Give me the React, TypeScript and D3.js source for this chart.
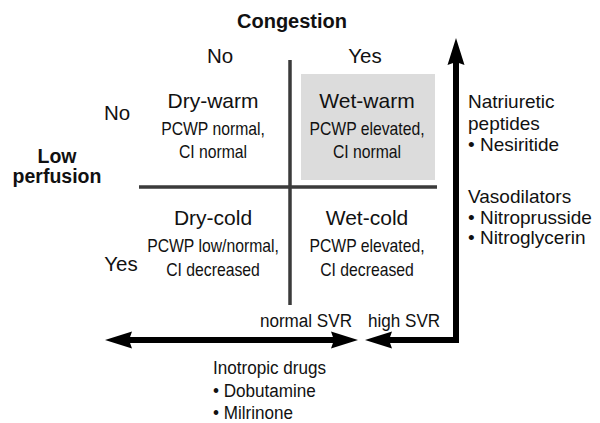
import React from 'react';
import * as d3 from 'd3';

const W = 600;
const H = 423;
const FONT = '"Liberation Sans", Arial, sans-serif';

// quadrant data
const congestion = ['No', 'Yes'];
const perfusion = ['No', 'Yes'];
const quadrantNames = ['Dry-warm', 'Wet-warm', 'Dry-cold', 'Wet-cold'];
const quadrantLines = [
  ['PCWP normal,', 'CI normal'],
  ['PCWP elevated,', 'CI normal'],
  ['PCWP low/normal,', 'CI decreased'],
  ['PCWP elevated,', 'CI decreased'],
];
const highlighted = 'Wet-warm';

// therapy labels
const natriuretic = ['Natriuretic', 'peptides', '• Nesiritide'];
const vasodilators = ['Vasodilators', '• Nitroprusside', '• Nitroglycerin'];
const inotropes = ['Inotropic drugs', '• Dobutamine', '• Milrinone'];
const svrLabels = ['normal SVR', 'high SVR'];

// layout scales
const colX = d3.scalePoint<string>().domain(congestion).range([213, 367]);
const rowY = d3.scalePoint<string>().domain(perfusion).range([108, 225]);
const headX = d3.scalePoint<string>().domain(congestion).range([220, 365]);
const sideY = d3.scalePoint<string>().domain(perfusion).range([120, 271]);

const gridX = d3.scaleLinear().domain([-1, 1]).range([139, 437]);
const gridY = d3.scaleLinear().domain([1, -1]).range([60, 305]);

const line = d3.line<[number, number]>();

function head(tip: [number, number], dir: 'left' | 'right' | 'up') {
  const L = 27;
  const w = 8.5;
  const [x, y] = tip;
  let pts: [number, number][];
  if (dir === 'left') pts = [[x, y], [x + L, y - w], [x + L - 3, y], [x + L, y + w]];
  else if (dir === 'right') pts = [[x, y], [x - L, y - w], [x - L + 3, y], [x - L, y + w]];
  else pts = [[x, y], [x - w, y + L], [x, y + L - 3], [x + w, y + L]];
  return line(pts) + 'Z';
}

// narrow text: regular glyphs squeezed horizontally
function Narrow({ x, y, size, anchor, children }: any) {
  return (
    <text
      transform={`translate(${x},${y}) scale(0.9,1)`}
      fontSize={size}
      textAnchor={anchor || 'start'}
      fill="#111"
    >
      {children}
    </text>
  );
}

export default function App() {
  const arrowY = 340;
  const arrowX = 456;
  return (
    <svg
      width={W}
      height={H}
      viewBox={`0 0 ${W} ${H}`}
      style={{ position: 'absolute', left: 0, top: 0, background: '#fff' }}
      fontFamily={FONT}
    >
      <defs>
        <filter id="soft" x="-10%" y="-10%" width="120%" height="120%">
          <feGaussianBlur stdDeviation="0.6" />
        </filter>
      </defs>
      <rect width={W} height={H} fill="#fff" />

      {/* highlighted quadrant */}
      <rect x={301} y={74} width={134} height={106} fill="#dcdcdc" />

      {/* quadrant cross */}
      <g stroke="#3a3a3a" strokeWidth={3.5} filter="url(#soft)">
        <path d={line([[gridX(0) + 2, gridY(1)], [gridX(0) + 2, gridY(-1)]]) as string} />
        <path d={line([[gridX(-1), gridY(0) + 4.5], [gridX(1), gridY(0) + 4.5]]) as string} />
      </g>

      {/* therapy arrows */}
      <g filter="url(#soft)">
        <path
          d={line([[105 + 20, arrowY], [358 - 20, arrowY]]) as string}
          stroke="#000"
          strokeWidth={6}
          fill="none"
        />
        <path d={head([105, arrowY], 'left')} fill="#000" />
        <path d={head([358, arrowY], 'right')} fill="#000" />
        <path
          d={line([[365 + 20, arrowY], [arrowX, arrowY], [arrowX, 38 + 20]]) as string}
          stroke="#000"
          strokeWidth={6}
          fill="none"
          strokeLinejoin="miter"
        />
        <path d={head([365, arrowY], 'left')} fill="#000" />
        <path d={head([arrowX, 38], 'up')} fill="#000" />
      </g>

      {/* axis titles */}
      <text x={292} y={28} fontSize={20} fontWeight="bold" textAnchor="middle" fill="#111">
        Congestion
      </text>
      <text x={57} y={163} fontSize={19.5} fontWeight="bold" textAnchor="middle" fill="#111">
        Low
      </text>
      <text x={57} y={183} fontSize={19.5} fontWeight="bold" textAnchor="middle" fill="#111">
        perfusion
      </text>

      {congestion.map((c) => (
        <text key={`h${c}`} x={headX(c)} y={63} fontSize={20.5} textAnchor="middle" fill="#111">
          {c}
        </text>
      ))}
      {perfusion.map((p) => (
        <text key={`s${p}`} x={(p === 'No' ? 117 : 121)} y={sideY(p)} fontSize={20.5} textAnchor="middle" fill="#111">
          {p}
        </text>
      ))}

      {/* quadrants */}
      {quadrantNames.map((name, i) => {
        const c = congestion[i % 2];
        const p = perfusion[Math.floor(i / 2)];
        const x = colX(c) as number;
        const y = rowY(p) as number;
        return (
          <g key={name} textAnchor="middle" fill="#111">
            <text x={x} y={y} fontSize={21} fill={name === highlighted ? '#111' : '#111'}>
              {name}
            </text>
            {quadrantLines[i].map((t, j) => (
              <Narrow key={t + j} x={x} y={y + 27 + j * (p === 'No' ? 23 : 24)} size={17.5} anchor="middle">
                {t}
              </Narrow>
            ))}
          </g>
        );
      })}

      {/* right side therapies */}
      {natriuretic.map((t, j) => (
        <text key={t} x={468} y={108 + j * 21.5} fontSize={19} fill="#111">
          {t}
        </text>
      ))}
      {vasodilators.map((t, j) => (
        <text key={t} x={468} y={203 + j * 20.5} fontSize={19} fill="#111">
          {t}
        </text>
      ))}

      {/* SVR labels */}
      <Narrow x={352} y={327} size={19} anchor="end">
        {svrLabels[0]}
      </Narrow>
      <Narrow x={368} y={327} size={19}>
        {svrLabels[1]}
      </Narrow>

      {/* inotropes */}
      {inotropes.map((t, j) => (
        <Narrow key={t} x={213} y={374 + j * 22.5} size={19}>
          {t}
        </Narrow>
      ))}
    </svg>
  );
}
